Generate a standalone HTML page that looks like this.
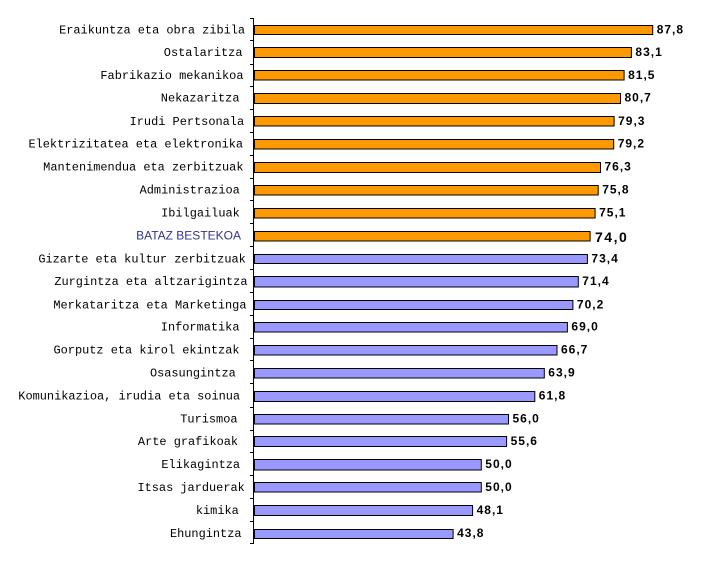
<!DOCTYPE html>
<html>
<head>
<meta charset="utf-8">
<style>
  html, body { margin: 0; padding: 0; background: #fff; }
  body { width: 726px; height: 563px; overflow: hidden; }
  svg { display: block; }
  .lab { font-family: "Liberation Mono", monospace; font-size: 11.93px; fill: #000; }
  .avg { font-family: "Liberation Sans", sans-serif; font-size: 12px; fill: #33338f; }
  .val { font-family: "Liberation Sans", sans-serif; font-size: 12px; font-weight: bold; fill: #000; letter-spacing: 1px; }
  .valb { font-family: "Liberation Sans", sans-serif; font-size: 14px; font-weight: bold; fill: #000; letter-spacing: 1.5px; }
</style>
</head>
<body>
<svg width="726" height="563" viewBox="0 0 726 563" xmlns="http://www.w3.org/2000/svg">
  <rect x="0" y="0" width="726" height="563" fill="#fff"/>

  <!-- Bars -->
  <g stroke="#000" stroke-width="1">
    <rect x="254.5" y="25.5" width="398.2" height="9" fill="#FF9900"/>
    <rect x="254.5" y="47.5" width="376.9" height="10" fill="#FF9900"/>
    <rect x="254.5" y="70.5" width="369.6" height="9.5" fill="#FF9900"/>
    <rect x="254.5" y="93.5" width="366.0" height="10" fill="#FF9900"/>
    <rect x="254.5" y="116.5" width="359.6" height="9.5" fill="#FF9900"/>
    <rect x="254.5" y="139.5" width="359.2" height="9.5" fill="#FF9900"/>
    <rect x="254.5" y="162.5" width="346.0" height="10" fill="#FF9900"/>
    <rect x="254.5" y="185.5" width="343.7" height="9.5" fill="#FF9900"/>
    <rect x="254.5" y="208.5" width="340.6" height="9.5" fill="#FF9900"/>
    <rect x="254.5" y="231.5" width="335.6" height="9.5" fill="#FF9900"/>
    <rect x="254.5" y="254.5" width="332.9" height="9" fill="#9999FF"/>
    <rect x="254.5" y="276.5" width="323.8" height="10.5" fill="#9999FF"/>
    <rect x="254.5" y="300.5" width="318.4" height="9" fill="#9999FF"/>
    <rect x="254.5" y="322.5" width="312.9" height="9.5" fill="#9999FF"/>
    <rect x="254.5" y="345.5" width="302.5" height="9.5" fill="#9999FF"/>
    <rect x="254.5" y="368.5" width="289.8" height="9.5" fill="#9999FF"/>
    <rect x="254.5" y="391.5" width="280.3" height="10" fill="#9999FF"/>
    <rect x="254.5" y="414.5" width="254.0" height="9.5" fill="#9999FF"/>
    <rect x="254.5" y="436.5" width="252.1" height="10" fill="#9999FF"/>
    <rect x="254.5" y="459.5" width="226.8" height="10.5" fill="#9999FF"/>
    <rect x="254.5" y="482.5" width="226.8" height="9.5" fill="#9999FF"/>
    <rect x="254.5" y="505.5" width="218.1" height="10" fill="#9999FF"/>
    <rect x="254.5" y="529.5" width="198.6" height="9" fill="#9999FF"/>
  </g>

  <!-- Axis -->
  <g stroke="#000" stroke-width="1">
    <line x1="253.5" y1="18" x2="253.5" y2="544"/>
    <line x1="250" y1="18.5" x2="254" y2="18.5"/>
    <line x1="250" y1="40.5" x2="254" y2="40.5"/>
    <line x1="250" y1="64.5" x2="254" y2="64.5"/>
    <line x1="250" y1="86.5" x2="254" y2="86.5"/>
    <line x1="250" y1="109.5" x2="254" y2="109.5"/>
    <line x1="250" y1="132.5" x2="254" y2="132.5"/>
    <line x1="250" y1="155.5" x2="254" y2="155.5"/>
    <line x1="250" y1="178.5" x2="254" y2="178.5"/>
    <line x1="250" y1="200.5" x2="254" y2="200.5"/>
    <line x1="250" y1="223.5" x2="254" y2="223.5"/>
    <line x1="250" y1="246.5" x2="254" y2="246.5"/>
    <line x1="250" y1="269.5" x2="254" y2="269.5"/>
    <line x1="250" y1="292.5" x2="254" y2="292.5"/>
    <line x1="250" y1="315.5" x2="254" y2="315.5"/>
    <line x1="250" y1="338.5" x2="254" y2="338.5"/>
    <line x1="250" y1="360.5" x2="254" y2="360.5"/>
    <line x1="250" y1="383.5" x2="254" y2="383.5"/>
    <line x1="250" y1="407.5" x2="254" y2="407.5"/>
    <line x1="250" y1="430.5" x2="254" y2="430.5"/>
    <line x1="250" y1="452.5" x2="254" y2="452.5"/>
    <line x1="250" y1="475.5" x2="254" y2="475.5"/>
    <line x1="250" y1="498.5" x2="254" y2="498.5"/>
    <line x1="250" y1="521.5" x2="254" y2="521.5"/>
    <line x1="250" y1="543.5" x2="254" y2="543.5"/>
  </g>

  <!-- Category labels -->
  <g class="lab" text-anchor="end">
    <text x="245.1" y="33.5">Eraikuntza eta obra zibila</text>
    <text x="242.5" y="56">Ostalaritza</text>
    <text x="243.5" y="79">Fabrikazio mekanikoa</text>
    <text x="239.5" y="101.5">Nekazaritza</text>
    <text x="244.1" y="125">Irudi Pertsonala</text>
    <text x="243.1" y="147.5">Elektrizitatea eta elektronika</text>
    <text x="243.5" y="170.5">Mantenimendua eta zerbitzuak</text>
    <text x="239.8" y="193.5">Administrazioa</text>
    <text x="239.8" y="216.5">Ibilgailuak</text>
    <text x="245.8" y="262.5">Gizarte eta kultur zerbitzuak</text>
    <text x="247.5" y="285">Zurgintza eta altzarigintza</text>
    <text x="246.5" y="308.5">Merkataritza eta Marketinga</text>
    <text x="239.5" y="330.5">Informatika</text>
    <text x="239.5" y="353.5">Gorputz eta kirol ekintzak</text>
    <text x="235.8" y="376.5">Osasungintza</text>
    <text x="240.1" y="399.5">Komunikazioa, irudia eta soinua</text>
    <text x="237.5" y="422.5">Turismoa</text>
    <text x="238.1" y="445">Arte grafikoak</text>
    <text x="240.1" y="468">Elikagintza</text>
    <text x="244.8" y="491">Itsas jarduerak</text>
    <text x="238.8" y="514">kimika</text>
    <text x="241.5" y="537">Ehungintza</text>
  </g>
  <text class="avg" x="241" y="239.5" text-anchor="end">BATAZ BESTEKOA</text>

  <!-- Value labels -->
  <g class="val">
    <text x="656.7" y="33.5">87,8</text>
    <text x="635.4" y="56">83,1</text>
    <text x="628.1" y="79">81,5</text>
    <text x="624.5" y="101.5">80,7</text>
    <text x="618.1" y="125">79,3</text>
    <text x="617.7" y="147.5">79,2</text>
    <text x="604.5" y="170.5">76,3</text>
    <text x="602.2" y="193.5">75,8</text>
    <text x="599.1" y="216.5">75,1</text>
    <text x="591.4" y="262.5">73,4</text>
    <text x="582.3" y="285">71,4</text>
    <text x="576.9" y="308.5">70,2</text>
    <text x="571.4" y="330.5">69,0</text>
    <text x="561.0" y="353.5">66,7</text>
    <text x="548.3" y="376.5">63,9</text>
    <text x="538.8" y="399.5">61,8</text>
    <text x="512.5" y="422.5">56,0</text>
    <text x="510.6" y="445">55,6</text>
    <text x="485.3" y="468">50,0</text>
    <text x="485.3" y="491">50,0</text>
    <text x="476.6" y="514">48,1</text>
    <text x="457.1" y="537">43,8</text>
  </g>
  <text class="valb" x="595" y="242">74,0</text>
</svg>
</body>
</html>
